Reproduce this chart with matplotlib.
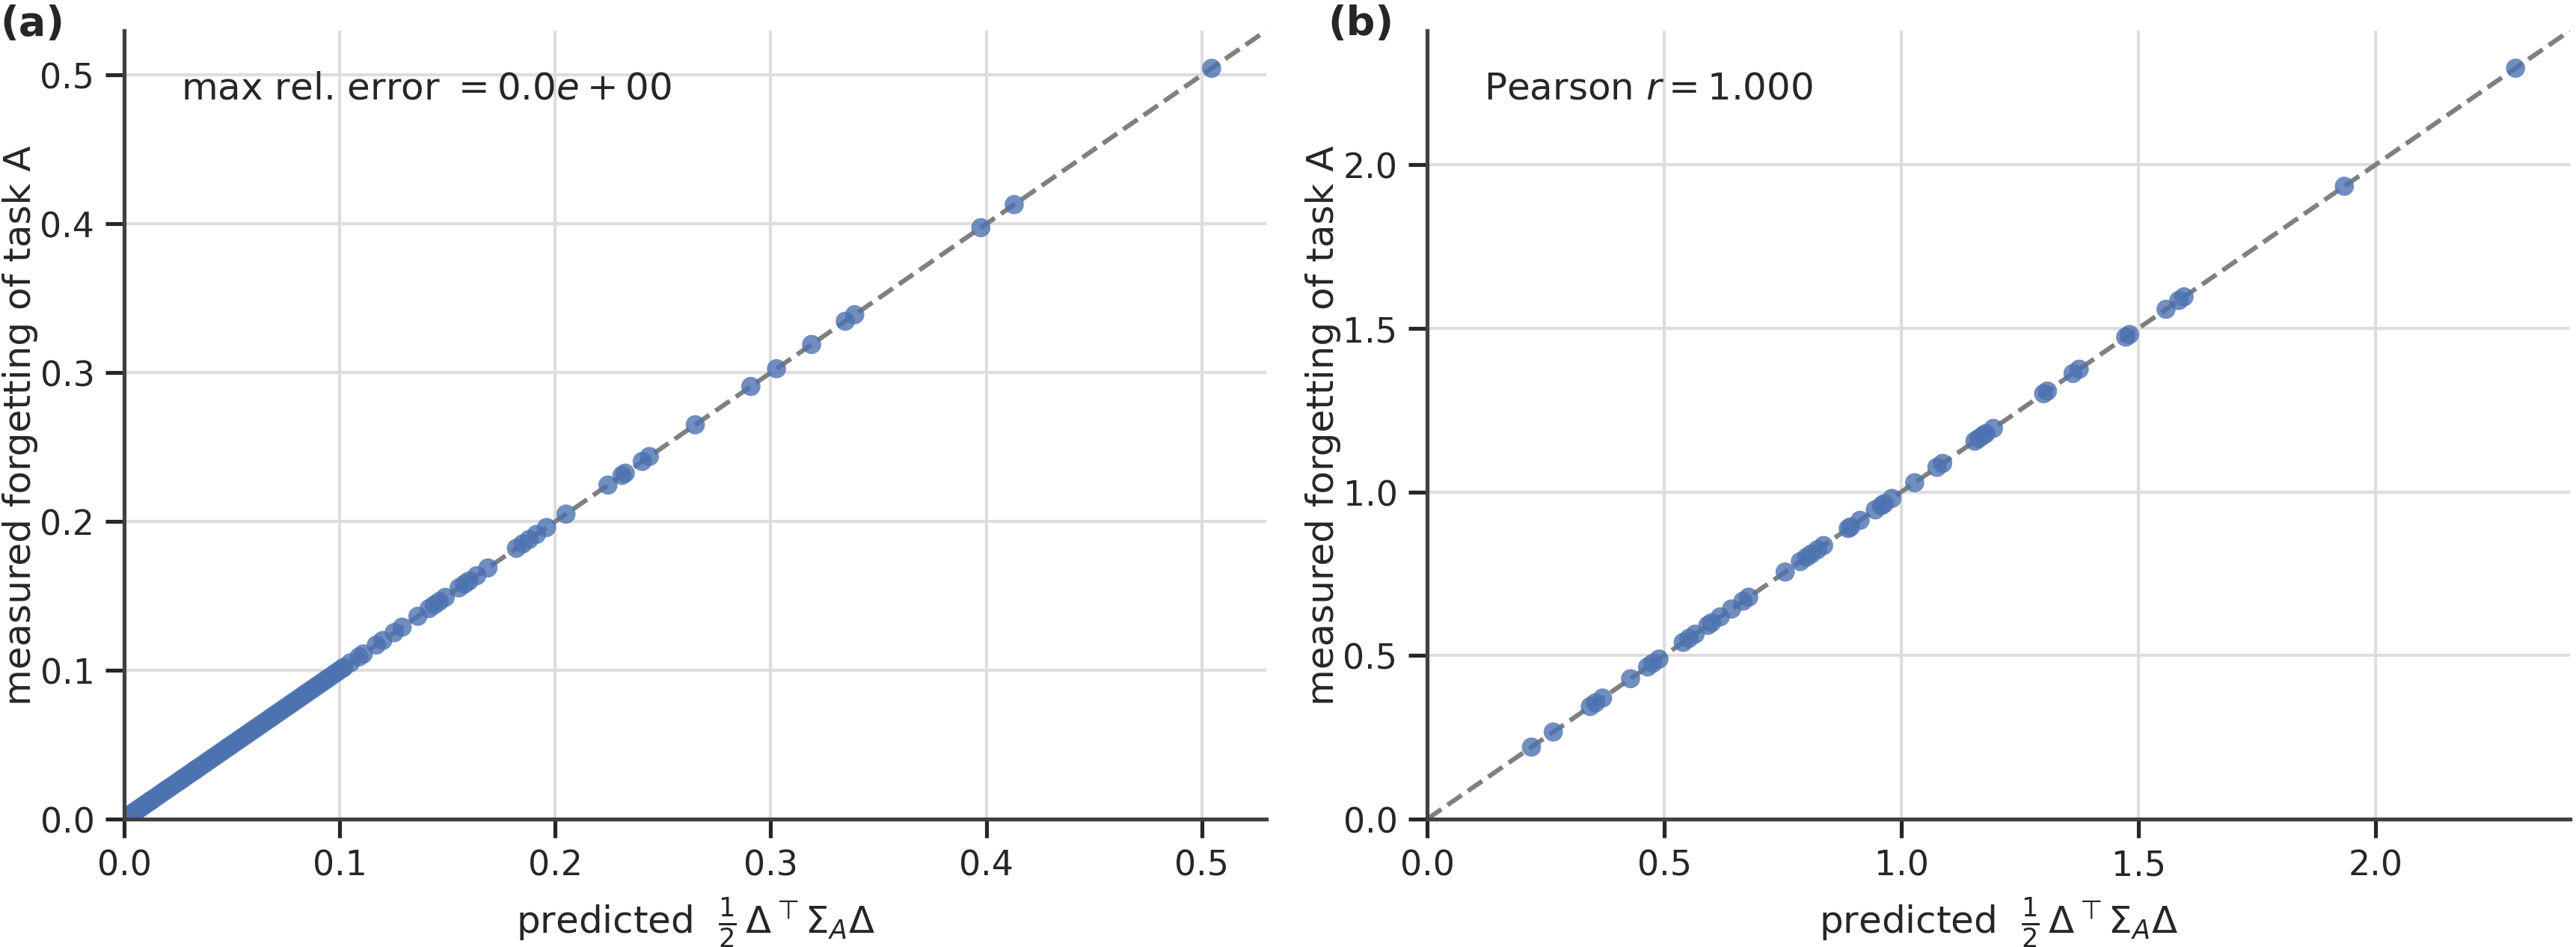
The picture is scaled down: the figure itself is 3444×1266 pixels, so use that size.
import matplotlib
matplotlib.use("Agg")
import matplotlib.pyplot as plt
import seaborn as sns

# panel (a): measured forgetting equals the quadratic prediction exactly
pred_a = [
    0.003, 0.004, 0.005, 0.006, 0.007, 0.008, 0.009, 0.010, 0.0115, 0.012,
    0.013, 0.0145, 0.016, 0.0175, 0.019, 0.020, 0.0215, 0.023, 0.0245, 0.026,
    0.027, 0.028, 0.0295, 0.031, 0.0325, 0.033, 0.034, 0.0355, 0.037, 0.0385,
    0.040, 0.0415, 0.043, 0.0445, 0.046, 0.0475, 0.049, 0.0505, 0.052, 0.0535,
    0.055, 0.0565, 0.058, 0.0595, 0.061, 0.0625, 0.064, 0.0655, 0.067, 0.0685,
    0.070, 0.0715, 0.073, 0.0745, 0.076, 0.0775, 0.079, 0.0805, 0.082, 0.0835,
    0.085, 0.0865, 0.088, 0.0895, 0.091, 0.0925, 0.094, 0.0955, 0.0975, 0.099,
    0.101, 0.102, 0.105, 0.109, 0.111, 0.117, 0.120, 0.1253, 0.129, 0.1363,
    0.1415, 0.1439, 0.1462, 0.149, 0.1554, 0.158, 0.160, 0.1636, 0.1688, 0.182,
    0.185, 0.1879, 0.1913, 0.196, 0.2050, 0.2245, 0.2310, 0.2325, 0.2404, 0.2437,
    0.265, 0.2908, 0.3027, 0.319, 0.3346, 0.339, 0.3975, 0.413, 0.5046,
]
meas_a = list(pred_a)
lim_a = 0.53

# panel (b): forgetting vs prediction, Pearson r = 1.000
pred_b = [
    0.220, 0.266, 0.344, 0.355, 0.370, 0.429, 0.465, 0.476, 0.489, 0.540,
    0.552, 0.565, 0.592, 0.600, 0.618, 0.642, 0.666, 0.678, 0.755, 0.787,
    0.800, 0.810, 0.823, 0.836, 0.888, 0.893, 0.913, 0.945, 0.958, 0.964,
    0.980, 1.028, 1.075, 1.087, 1.155, 1.163, 1.172, 1.178, 1.194, 1.300,
    1.308, 1.362, 1.375, 1.473, 1.481, 1.558, 1.585, 1.596, 1.934, 2.295,
]
meas_b = list(pred_b)
lim_b = 2.41

ticks_a = [0.0, 0.1, 0.2, 0.3, 0.4, 0.5]
ticks_b = [0.0, 0.5, 1.0, 1.5, 2.0]

sns.set_theme(style="whitegrid", context="notebook")
plt.rcParams["font.family"] = ["DejaVu Sans"]
plt.rcParams.update({
    "xtick.bottom": True,
    "ytick.left": True,
    "grid.color": "#dddddd",
    "axes.edgecolor": ".25",
})

blue = "#4C72B0"
xlabel = r"predicted  $\frac{1}{2}\,\Delta^\top\Sigma_A\Delta$"
ylabel = "measured forgetting of task A"

fig = plt.figure(figsize=(11.48, 4.2233), dpi=300)
ax_a = fig.add_axes([0.0482, 0.135, 0.4434, 0.832])
ax_b = fig.add_axes([0.5540, 0.135, 0.4437, 0.832])

panels = [
    (ax_a, pred_a, meas_a, lim_a, ticks_a, r"max rel. error $= 0.0e+00$"),
    (ax_b, pred_b, meas_b, lim_b, ticks_b, r"Pearson $r = 1.000$"),
]
for ax, x, y, lim, ticks, note in panels:
    ax.plot([0, lim], [0, lim], color="gray", ls="--", lw=1.5, zorder=1)
    ax.scatter(x, y, s=38, color=blue, alpha=0.8, edgecolors="none", zorder=2)
    ax.set_xlim(0, lim)
    ax.set_ylim(0, lim)
    ax.set_xticks(ticks)
    ax.set_yticks(ticks)
    ax.set_xlabel(xlabel)
    ax.set_ylabel(ylabel, labelpad=0.5)
    ax.text(0.05, 0.95, note, transform=ax.transAxes, ha="left", va="top",
            fontsize=12)
    sns.despine(ax=ax)

fig.text(0.0, 0.995, "(a)", fontsize=13, fontweight="bold", ha="left", va="top")
fig.text(0.5155, 0.995, "(b)", fontsize=13, fontweight="bold", ha="left", va="top")

fig.savefig("out.png", dpi=300)
